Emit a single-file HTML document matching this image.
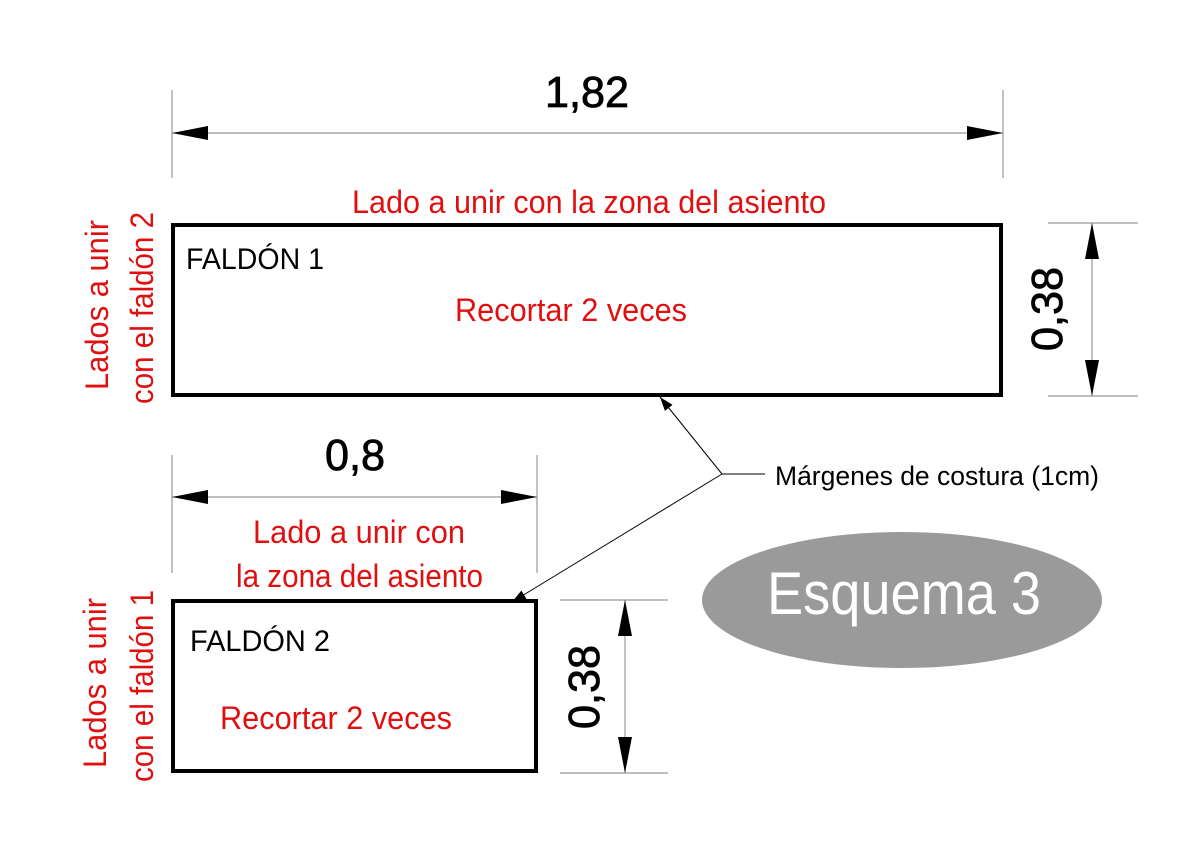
<!DOCTYPE html>
<html><head><meta charset="utf-8"><style>
html,body{margin:0;padding:0;background:#fff}
svg{display:block}
text{font-family:"Liberation Sans Narrow","Liberation Sans",sans-serif}
</style></head><body>
<svg width="1200" height="848" viewBox="0 0 1200 848" xmlns="http://www.w3.org/2000/svg">
<defs>
<marker id="ah" viewBox="0 0 10 10" refX="10" refY="5" markerWidth="14" markerHeight="14" orient="auto" markerUnits="userSpaceOnUse"><path d="M0,1.5 L10,5 L0,8.5z" fill="#000"/></marker>
</defs>
<g stroke="#999" stroke-width="1.2" fill="none">
<line x1="172" y1="90" x2="172" y2="178"/>
<line x1="1003" y1="90" x2="1003" y2="178"/>
<line x1="172" y1="133" x2="1003" y2="133"/>
<line x1="1048" y1="223" x2="1138" y2="223"/>
<line x1="1048" y1="396" x2="1138" y2="396"/>
<line x1="1092" y1="223" x2="1092" y2="396"/>
<line x1="172" y1="455" x2="172" y2="573"/>
<line x1="537" y1="455" x2="537" y2="573"/>
<line x1="172" y1="497" x2="537" y2="497"/>
<line x1="560" y1="600" x2="668" y2="600"/>
<line x1="560" y1="773" x2="668" y2="773"/>
<line x1="625" y1="600" x2="625" y2="773"/>
</g>
<g fill="#000">
<path d="M172,133 L208,126 L208,140z"/><path d="M1003,133 L967,126 L967,140z"/>
<path d="M1092,223 L1085,259 L1099,259z"/><path d="M1092,396 L1085,360 L1099,360z"/>
<path d="M172,497 L208,490 L208,504z"/><path d="M537,497 L501,490 L501,504z"/>
<path d="M625,600 L618,636 L632,636z"/><path d="M625,773 L618,737 L632,737z"/>
</g>
<rect x="173" y="225" width="828" height="170" fill="none" stroke="#000" stroke-width="4"/>
<rect x="173" y="601" width="363" height="170" fill="none" stroke="#000" stroke-width="4"/>
<g stroke="#000" stroke-width="1" fill="none">
<line x1="722" y1="474" x2="660" y2="397" marker-end="url(#ah)"/>
<line x1="722" y1="474" x2="512" y2="602" marker-end="url(#ah)"/>
<line x1="722" y1="474" x2="765" y2="474"/>
</g>
<ellipse cx="902" cy="600" rx="200" ry="68" fill="#9a9a9a"/>
<g font-family="Liberation Sans" font-size="44" stroke="#000" stroke-width="0.8" text-anchor="middle">
<text x="587" y="107" textLength="84" lengthAdjust="spacingAndGlyphs">1,82</text>
<text x="355" y="470" textLength="60" lengthAdjust="spacingAndGlyphs">0,8</text>
<text transform="translate(1062,309) rotate(-90)" textLength="84" lengthAdjust="spacingAndGlyphs">0,38</text>
<text transform="translate(599,687) rotate(-90)" textLength="84" lengthAdjust="spacingAndGlyphs">0,38</text>
</g>
<g fill="#e01010" font-size="32">
<text x="352" y="213" textLength="474" lengthAdjust="spacingAndGlyphs">Lado a unir con la zona del asiento</text>
<text x="455" y="321" textLength="232" lengthAdjust="spacingAndGlyphs">Recortar 2 veces</text>
<text x="253" y="543" textLength="212" lengthAdjust="spacingAndGlyphs">Lado a unir con</text>
<text x="236" y="587" textLength="247" lengthAdjust="spacingAndGlyphs">la zona del asiento</text>
<text x="220" y="729" textLength="232" lengthAdjust="spacingAndGlyphs">Recortar 2 veces</text>
<text transform="translate(108,390) rotate(-90)" textLength="170" lengthAdjust="spacingAndGlyphs">Lados a unir</text>
<text transform="translate(153,404) rotate(-90)" textLength="192" lengthAdjust="spacingAndGlyphs">con el faldón 2</text>
<text transform="translate(106,768) rotate(-90)" textLength="170" lengthAdjust="spacingAndGlyphs">Lados a unir</text>
<text transform="translate(153,782) rotate(-90)" textLength="192" lengthAdjust="spacingAndGlyphs">con el faldón 1</text>
</g>
<g fill="#000" font-size="30">
<text x="186" y="269" textLength="138" lengthAdjust="spacingAndGlyphs">FALDÓN 1</text>
<text x="190" y="651" textLength="140" lengthAdjust="spacingAndGlyphs">FALDÓN 2</text>
<text x="775" y="485" font-size="27" textLength="324" lengthAdjust="spacingAndGlyphs">Márgenes de costura (1cm)</text>
</g>
<text x="767" y="614" font-size="60" fill="#fff" textLength="274" lengthAdjust="spacingAndGlyphs">Esquema 3</text>
</svg>
</body></html>
